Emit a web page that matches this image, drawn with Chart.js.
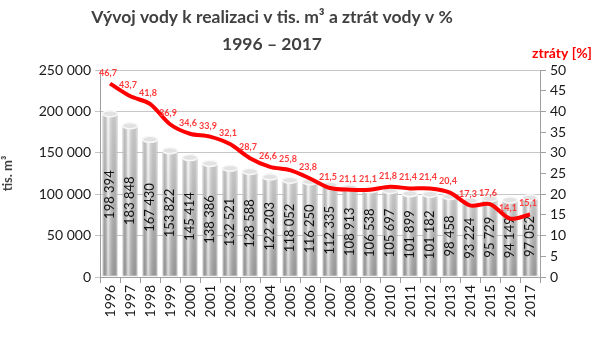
<!DOCTYPE html>
<html>
<head>
<meta charset="utf-8">
<script src="https://cdn.jsdelivr.net/npm/chart.js@4/dist/chart.umd.min.js"></script>
<style>
  html, body { margin: 0; padding: 0; background: #fff; }
  #wrap { position: relative; width: 606px; height: 341px; }
</style>
</head>
<body>
<div id="wrap"><canvas id="chart" width="606" height="341"></canvas></div>
<script>
"use strict"

const years = ['1996','1997','1998','1999','2000','2001','2002','2003','2004','2005','2006',
  '2007','2008','2009','2010','2011','2012','2013','2014','2015','2016','2017'];
// voda k realizaci [tis. m3]
const volume = [198394, 183848, 167430, 153822, 145414, 138386, 132521, 128588, 122203, 118052, 116250,
  112335, 108913, 106538, 105697, 101899, 101182, 98458, 93224, 95729, 94149, 97052];
// ztraty vody [%]
const losses = [46.7, 43.7, 41.8, 36.9, 34.6, 33.9, 32.1, 28.7, 26.6, 25.8, 23.8,
  21.5, 21.1, 21.1, 21.8, 21.4, 21.4, 20.4, 17.3, 17.6, 14.1, 15.1];
const titleLines = ['Vývoj vody k realizaci v tis. m³ a ztrát vody v %', '1996 – 2017'];
const rightTitle = 'ztráty [%]';

const FONT = 'Lato, "Open Sans", sans-serif';

function fmt(v) {
  return String(v).replace(/\B(?=(\d{3})+(?!\d))/g, ' ');
}

// cylinder shading + value inside every bar
const barDecor = {
  id: 'barDecor',
  afterDatasetDraw(chart, args) {
    if (args.index !== 0) return;
    const ctx = chart.ctx;
    ctx.save();
    args.meta.data.forEach((bar, i) => {
      const {x, y, base, width} = bar.getProps(['x', 'y', 'base', 'width'], true);
      const l = x - width / 2 + 1, w = width - 2;
      let g = ctx.createLinearGradient(0, y, 0, base);
      g.addColorStop(0, '#f4f4f4');
      g.addColorStop(1, '#b4b4b4');
      ctx.fillStyle = g;
      ctx.fillRect(l, y, w, base - y - 1);
      g = ctx.createLinearGradient(l, 0, l + w, 0);
      g.addColorStop(0, 'rgba(0,0,0,0.18)');
      g.addColorStop(0.35, 'rgba(255,255,255,0.6)');
      g.addColorStop(1, 'rgba(0,0,0,0.14)');
      ctx.fillStyle = g;
      ctx.fillRect(l, y, w, base - y - 1);
      ctx.beginPath();
      ctx.ellipse(x, y + 1, width / 2, 3, 0, 0, 2 * Math.PI);
      ctx.fillStyle = '#e2e2e2';
      ctx.fill();
      ctx.strokeStyle = '#f8f8f8';
      ctx.lineWidth = 1.5;
      ctx.stroke();

      ctx.save();
      ctx.translate(x, (y + base) / 2);
      ctx.rotate(-Math.PI / 2);
      ctx.font = '13px ' + FONT;
      ctx.fillStyle = '#111';
      ctx.textAlign = 'center';
      ctx.textBaseline = 'middle';
      ctx.fillText(fmt(volume[i]), 0, 0);
      ctx.restore();
    });
    ctx.restore();
  },
  afterDatasetsDraw(chart) {
    const ctx = chart.ctx;
    const meta = chart.getDatasetMeta(1);
    ctx.save();
    ctx.font = 'bold 9px ' + FONT;
    ctx.fillStyle = '#ff3a3a';
    ctx.textAlign = 'center';
    ctx.textBaseline = 'middle';
    meta.data.forEach((pt, i) => {
      ctx.fillText(String(losses[i]).replace('.', ','), pt.x - 2, pt.y - 11);
    });
    ctx.restore();
  }
};

// headline and the caption over the right axis
const header = {
  id: 'header',
  afterDraw(chart) {
    const ctx = chart.ctx;
    ctx.save();
    ctx.textAlign = 'center';
    ctx.textBaseline = 'middle';
    ctx.fillStyle = '#404040';
    ctx.font = 'bold 17.5px ' + FONT;
    ctx.fillText(titleLines[0], 272, 17);
    ctx.fillText(titleLines[1], 272, 44);
    ctx.fillStyle = '#ff0000';
    ctx.font = 'bold 14px ' + FONT;
    ctx.fillText(rightTitle, 562, 53);
    ctx.restore();
  }
};

new Chart(document.getElementById('chart'), {
  data: {
    labels: years,
    datasets: [{
      type: 'bar',
      data: volume,
      yAxisID: 'y',
      order: 1,
      backgroundColor: '#d4d4d4',
      borderColor: '#a8a8a8',
      borderWidth: 1,
      barPercentage: 0.76,
      categoryPercentage: 1
    }, {
      type: 'line',
      data: losses,
      yAxisID: 'y1',
      order: 0,
      borderColor: '#ff0000',
      borderWidth: 4,
      pointRadius: 0,
      tension: 0.3
    }]
  },
  options: {
    responsive: false,
    animation: false,
    layout: { padding: { top: 70, left: 0, right: 0, bottom: 0 } },
    plugins: { legend: { display: false }, tooltip: { enabled: false } },
    scales: {
      x: {
        afterFit: s => { s.height = 64; },
        grid: { drawOnChartArea: false, tickLength: 6, color: '#a0a0a0' },
        border: { color: '#a0a0a0' },
        ticks: { minRotation: 90, maxRotation: 90, color: '#1a1a1a', font: { family: FONT, size: 14 }, padding: 2 }
      },
      y: {
        position: 'left',
        min: 0, max: 250000,
        afterFit: s => { s.width = 100; },
        grid: { color: '#c6c6c6', tickLength: 5 },
        border: { color: '#a0a0a0' },
        ticks: { stepSize: 50000, color: '#1a1a1a', font: { family: FONT, size: 14 }, padding: 4, callback: v => fmt(v) },
        title: { display: true, text: 'tis. m³', color: '#404040', font: { family: FONT, size: 13, weight: 'bold' }, padding: 0 }
      },
      y1: {
        position: 'right',
        min: 0, max: 50,
        afterFit: s => { s.width = 66; },
        grid: { drawOnChartArea: false, tickLength: 6, color: '#a0a0a0' },
        border: { color: '#a0a0a0' },
        ticks: { stepSize: 5, color: '#1a1a1a', font: { family: FONT, size: 14 }, padding: 4 }
      }
    }
  },
  plugins: [barDecor, header]
});
</script>
</body>
</html>
